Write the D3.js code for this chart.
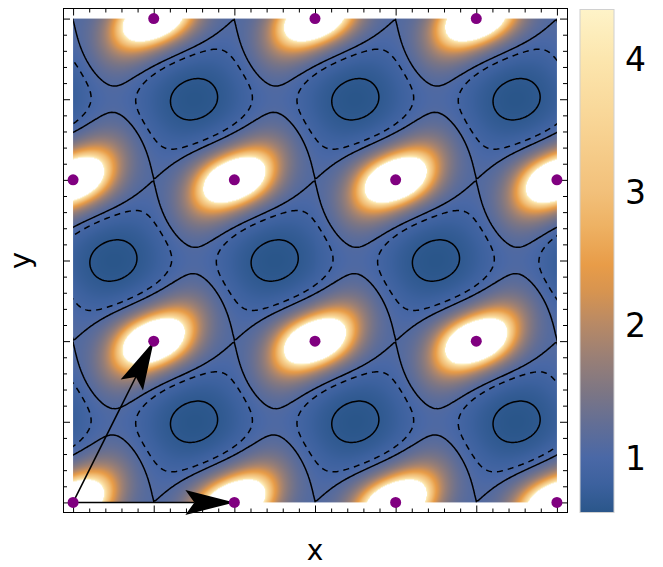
<!DOCTYPE html>
<html>
<head>
<meta charset="utf-8">
<script src="https://cdn.jsdelivr.net/npm/d3@7"></script>
<style>
  body { margin: 0; background: #fff; }
  svg { display: block; font-family: "DejaVu Sans", sans-serif; }
</style>
</head>
<body>
<svg id="chart" width="663" height="567"></svg>
<script>
const width = 663;
const height = 567;

// lattice (plot units, one major tick = 1)
const latticeA1 = [2, 0];
const latticeA2 = [1, 2];
const latticePoints = [[0,0],[2,0],[4,0],[6,0],[1,2],[3,2],[5,2],[0,4],[2,4],[4,4],[6,4],[1,6],[3,6],[5,6]];

// periodic field: f = W^-fieldPower, W = sum c * cos(pi*(m*x + (n - m/2)*y))
const harmonics = [[0,0],[1,0],[0,1],[1,1],[1,-1],[1,2],[2,1],[0,2],[2,0],[2,2]];
const fieldCoef = [0.9069, -0.4809, -0.5743, 0.0786, -0.0326, -0.0626, -0.0003, 0.0229, 0.0235, 0.0057];
const fieldPower = 0.70;

// contour levels: solid network, dashed, small solid
const contourLevels = [1.0918, 0.9244, 0.6485];
const contourDash = [null, "6,5", null];

// colour bar
const colorValues = [0.59, 0.8, 1.0, 1.25, 1.5, 1.75, 2.0, 2.25, 2.45, 2.75, 3.0, 3.5, 4.0, 4.37];
const colorHex = ["#2a568a","#3c619e","#4a68a6","#626e96","#7d7684","#997f76","#b78966","#d79450","#e89c48","#eeb264","#f2c07a","#f8d494","#fce6ae","#fef3c8"];
const barTicks = [1, 2, 3, 4];

const majors = d3.range(0, 7);
const minors = d3.range(0, 30.5).map(i => i / 5).filter(v => Math.abs(v - Math.round(v)) > 1e-6);

const fTop = colorValues[colorValues.length - 1];

function fval(X, Y) {
  let w = 0;
  harmonics.forEach(([m, n], k) => {
    w += fieldCoef[k] * Math.cos(Math.PI * (m * X + (n - m / 2) * Y));
  });
  return w > 0.01 ? Math.pow(w, -fieldPower) : 50;
}

const x = d3.scaleLinear().domain([-0.125, 6.125]).range([63, 567]);
const y = d3.scaleLinear().domain([-0.125, 6.125]).range([512.5, 8.5]);
const color = d3.scaleLinear().domain(colorValues).range(colorHex).interpolate(d3.interpolateRgb).clamp(true);

const svg = d3.select("#chart");

// density image
const nPix = 484;
const canvas = document.createElement("canvas");
canvas.width = nPix; canvas.height = nPix;
const ctx = canvas.getContext("2d");
const img = ctx.createImageData(nPix, nPix);
for (let j = 0; j < nPix; j++) {
  const Y = 6 - (j + 0.5) / nPix * 6;
  for (let i = 0; i < nPix; i++) {
    const X = (i + 0.5) / nPix * 6;
    const v = fval(X, Y);
    const c = v > fTop ? {r: 255, g: 255, b: 255} : d3.rgb(color(v));
    const o = (j * nPix + i) * 4;
    img.data[o] = c.r; img.data[o + 1] = c.g; img.data[o + 2] = c.b; img.data[o + 3] = 255;
  }
}
ctx.putImageData(img, 0, 0);
svg.append("image")
  .attr("x", x(0)).attr("y", y(6))
  .attr("width", x(6) - x(0)).attr("height", y(0) - y(6))
  .attr("preserveAspectRatio", "none")
  .attr("href", canvas.toDataURL());

// contour lines
svg.append("clipPath").attr("id", "clip")
  .append("rect").attr("x", x(0)).attr("y", y(6)).attr("width", x(6) - x(0)).attr("height", y(0) - y(6));
const step = 0.02, g0 = -0.1, nG = Math.round(6.2 / step) + 1;
const vals = new Float64Array(nG * nG);
for (let j = 0; j < nG; j++) for (let i = 0; i < nG; i++) vals[j * nG + i] = fval(g0 + i * step, g0 + j * step);
const contours = d3.contours().size([nG, nG]);
const proj = d3.geoTransform({
  point(px, py) { this.stream.point(x(g0 + (px - 0.5) * step), y(g0 + (py - 0.5) * step)); }
});
const path = d3.geoPath(proj);
const cg = svg.append("g").attr("clip-path", "url(#clip)");
contourLevels.forEach((lv, i) => {
  cg.append("path")
    .attr("d", path(contours.contour(vals, lv)))
    .attr("fill", "none")
    .attr("stroke", "#000")
    .attr("stroke-width", 1.5)
    .attr("stroke-dasharray", contourDash[i]);
});

// frame and ticks (inward, no labels)
svg.append("rect")
  .attr("x", 63.5).attr("y", 8.5).attr("width", 504).attr("height", 504)
  .attr("fill", "none").attr("stroke", "#000").attr("stroke-width", 1);
const sides = [
  [d3.axisBottom(x), `translate(0,${y(-0.125)})`],
  [d3.axisTop(x), `translate(0,${y(6.125)})`],
  [d3.axisLeft(y), `translate(${x(-0.125)},0)`],
  [d3.axisRight(y), `translate(${x(6.125)},0)`]
];
sides.forEach(([ax, tr]) => {
  [[majors, -7], [minors, -4]].forEach(([tv, size]) => {
    const g = svg.append("g").attr("transform", tr)
      .call(ax.tickValues(tv).tickSize(size).tickSizeOuter(0).tickFormat(""));
    g.select(".domain").remove();
    g.selectAll("line").attr("stroke", "#000");
  });
});

// lattice vectors
function arrow(vec) {
  const p0 = [x(0), y(0)], p1 = [x(vec[0]), y(vec[1])];
  const dx = p1[0] - p0[0], dy = p1[1] - p0[1], L = Math.hypot(dx, dy);
  const u = [dx / L, dy / L], n = [-u[1], u[0]];
  const hl = 49, hw = 12.5, notch = 9;
  const back = [p1[0] - hl * u[0], p1[1] - hl * u[1]];
  const nb = [p1[0] - (hl - notch) * u[0], p1[1] - (hl - notch) * u[1]];
  svg.append("line")
    .attr("x1", p0[0]).attr("y1", p0[1]).attr("x2", nb[0]).attr("y2", nb[1])
    .attr("stroke", "#000").attr("stroke-width", 1.5);
  svg.append("path")
    .attr("d", d3.line()([p1, [back[0] + hw * n[0], back[1] + hw * n[1]], nb, [back[0] - hw * n[0], back[1] - hw * n[1]]]) + "Z")
    .attr("fill", "#000");
}
arrow(latticeA1);
arrow(latticeA2);

// lattice points
svg.selectAll("circle.pt")
  .data(latticePoints)
  .enter().append("circle")
  .attr("class", "pt")
  .attr("cx", d => x(d[0]))
  .attr("cy", d => y(d[1]))
  .attr("r", 5.5)
  .attr("fill", "#800080");

// axis labels
svg.append("text")
  .attr("x", x(3)).attr("y", 560)
  .attr("text-anchor", "middle").attr("font-size", "28px")
  .text("x");
svg.append("text")
  .attr("transform", `translate(30,${y(3)}) rotate(-90)`)
  .attr("text-anchor", "middle").attr("font-size", "29px")
  .text("y");

// colour bar
const cb = d3.scaleLinear().domain([colorValues[0], fTop]).range([512.5, 9.5]);
const grad = svg.append("defs").append("linearGradient")
  .attr("id", "cbar").attr("x1", 0).attr("y1", 1).attr("x2", 0).attr("y2", 0);
colorValues.forEach((v, i) => {
  grad.append("stop")
    .attr("offset", (v - colorValues[0]) / (fTop - colorValues[0]))
    .attr("stop-color", colorHex[i]);
});
svg.append("rect")
  .attr("x", 580).attr("y", cb.range()[1]).attr("width", 34).attr("height", cb.range()[0] - cb.range()[1])
  .attr("fill", "url(#cbar)").attr("stroke", "#d0d0d0").attr("stroke-width", 1);
svg.selectAll("text.cb")
  .data(barTicks)
  .enter().append("text")
  .attr("class", "cb")
  .attr("x", 625).attr("y", d => cb(d))
  .attr("dy", "0.36em")
  .attr("font-size", "33px")
  .text(d => d);
</script>
</body>
</html>
